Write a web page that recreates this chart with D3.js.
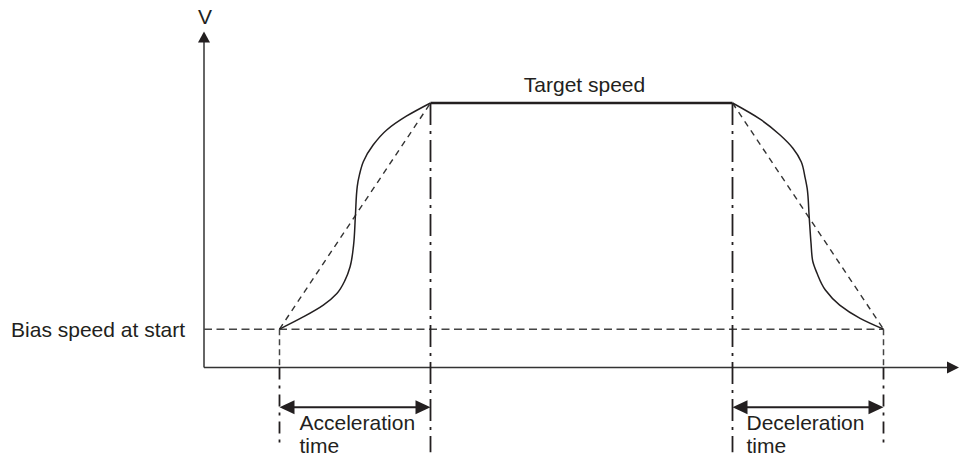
<!DOCTYPE html>
<html>
<head>
<meta charset="utf-8">
<script src="https://cdn.jsdelivr.net/npm/d3@7"></script>
<style>
  html, body { margin: 0; padding: 0; background: #fff; }
  svg { display: block; }
  text { font-family: "Liberation Sans", Arial, sans-serif; font-size: 21px; fill: #231f20; }
</style>
</head>
<body>
<svg width="966" height="459"></svg>
<script>
// phase times: accel start, accel end, decel start, decel end
var phaseTimes = [10, 30, 70, 90];
// speed levels: bias speed at start, target speed
var speedLevels = [14.5, 100];

// S-curve points (time, speed)
var sCurveAccel = [
  [10, 14.5], [13.2, 19.2], [15.8, 23.6], [17.6, 28], [18.7, 33.1], [19.35, 38.1],
  [19.8, 46], [20.05, 57.25], [20.3, 68.5], [20.6, 73], [21.1, 77.8],
  [22.4, 84.1], [24.2, 89.8], [26.8, 95], [30, 100]
];
var sCurveDecel = [
  [90, 14.5], [86.9, 18.6], [84.2, 23.6], [82.3, 29.3], [81.2, 35.6], [80.6, 40.6],
  [80.4, 47], [80.15, 57.25], [79.9, 67.5], [79.6, 72], [79.1, 77.8],
  [78.0, 82.9], [76.3, 87.9], [73.6, 94], [70, 100]
];

var axisLabels = ["V"];
var levelLabels = ["Bias speed at start", "Target speed"];
var timeLabels = [["Acceleration", "time"], ["Deceleration", "time"]];

var svg = d3.select("svg");

var x = d3.scaleLinear().domain([0, 100]).range([204, 959]),
    y = d3.scaleLinear().domain([0, 100]).range([367.5, 103]);

var ink = "#231f20";
var bias = speedLevels[0], target = speedLevels[1];

var line = d3.line()
    .x(function(d) { return x(d[0]); })
    .y(function(d) { return y(d[1]); });

// axes
var yTop = y(127), xEnd = x(100);
svg.append("line")
    .attr("x1", x(0)).attr("y1", y(0))
    .attr("x2", x(0)).attr("y2", yTop + 10)
    .attr("stroke", "#333").attr("stroke-width", 1.5);
svg.append("path")
    .attr("d", "M" + x(0) + "," + yTop + "L" + (x(0) - 6) + "," + (yTop + 11) + "L" + (x(0) + 6) + "," + (yTop + 11) + "Z")
    .attr("fill", ink);
svg.append("line")
    .attr("x1", x(0)).attr("y1", y(0))
    .attr("x2", xEnd - 10).attr("y2", y(0))
    .attr("stroke", "#333").attr("stroke-width", 1.5);
svg.append("path")
    .attr("d", "M" + xEnd + "," + y(0) + "L" + (xEnd - 12) + "," + (y(0) - 6) + "L" + (xEnd - 12) + "," + (y(0) + 6) + "Z")
    .attr("fill", ink);

svg.append("text")
    .attr("x", x(0) + 1).attr("y", yTop - 8)
    .attr("text-anchor", "middle")
    .text(axisLabels[0]);

// bias speed dashed level
svg.append("line")
    .attr("x1", x(0)).attr("y1", y(bias))
    .attr("x2", x(phaseTimes[3])).attr("y2", y(bias))
    .attr("stroke", "#444").attr("stroke-width", 1.5)
    .attr("stroke-dasharray", "8,4.5");

// dashed verticals from bias level down to the axis
[phaseTimes[0], phaseTimes[3]].forEach(function(t) {
  svg.append("line")
      .attr("x1", x(t)).attr("y1", y(bias))
      .attr("x2", x(t)).attr("y2", y(0))
      .attr("stroke", "#444").attr("stroke-width", 1.5)
      .attr("stroke-dasharray", "6,4");
});

// dash-dot verticals
var dashDot = "22,6,3,6";
[phaseTimes[1], phaseTimes[2]].forEach(function(t) {
  svg.append("line")
      .attr("x1", x(t)).attr("y1", y(target))
      .attr("x2", x(t)).attr("y2", y(-32))
      .attr("stroke", ink).attr("stroke-width", 1.8)
      .attr("stroke-dasharray", dashDot);
});
[phaseTimes[0], phaseTimes[3]].forEach(function(t) {
  svg.append("line")
      .attr("x1", x(t)).attr("y1", y(0))
      .attr("x2", x(t)).attr("y2", y(-30))
      .attr("stroke", ink).attr("stroke-width", 1.8)
      .attr("stroke-dasharray", "12,6,3,6");
});

// linear accel / decel (dashed)
var linearAccel = [[phaseTimes[0], bias], [phaseTimes[1], target]];
var linearDecel = [[phaseTimes[2], target], [phaseTimes[3], bias]];
[linearAccel, linearDecel].forEach(function(pts) {
  svg.append("path")
      .attr("d", line(pts))
      .attr("fill", "none")
      .attr("stroke", "#333").attr("stroke-width", 1.4)
      .attr("stroke-dasharray", "6,5");
});

// S-curves (x as a smooth function of speed)
var curve = d3.line()
    .x(function(d) { return x(d[0]); })
    .y(function(d) { return y(d[1]); })
    .curve(d3.curveMonotoneY);
[sCurveAccel, sCurveDecel].forEach(function(pts) {
  var sorted = pts.slice().sort(function(a, b) { return y(a[1]) - y(b[1]); });
  svg.append("path")
      .attr("d", curve(sorted))
      .attr("fill", "none")
      .attr("stroke", ink).attr("stroke-width", 1.5);
});

// target speed level
svg.append("line")
    .attr("x1", x(phaseTimes[1])).attr("y1", y(target))
    .attr("x2", x(phaseTimes[2])).attr("y2", y(target))
    .attr("stroke", ink).attr("stroke-width", 2.6);

svg.append("text")
    .attr("x", x(50) + 3).attr("y", y(target) - 11)
    .attr("text-anchor", "middle")
    .text(levelLabels[1]);

svg.append("text")
    .attr("x", x(0) - 19).attr("y", y(bias) + 8)
    .attr("text-anchor", "end")
    .text(levelLabels[0]);

// double-headed time arrows
var arrowY = y(-15);
function doubleArrow(t0, t1) {
  var a = x(t0), b = x(t1);
  svg.append("line")
      .attr("x1", a + 10).attr("y1", arrowY)
      .attr("x2", b - 10).attr("y2", arrowY)
      .attr("stroke", ink).attr("stroke-width", 2);
  svg.append("path")
      .attr("d", "M" + a + "," + arrowY + "L" + (a + 15) + "," + (arrowY - 7) + "L" + (a + 15) + "," + (arrowY + 7) + "Z")
      .attr("fill", ink);
  svg.append("path")
      .attr("d", "M" + b + "," + arrowY + "L" + (b - 15) + "," + (arrowY - 7) + "L" + (b - 15) + "," + (arrowY + 7) + "Z")
      .attr("fill", ink);
}
doubleArrow(phaseTimes[0], phaseTimes[1]);
doubleArrow(phaseTimes[2], phaseTimes[3]);

[[phaseTimes[0], 20], [phaseTimes[2], 14]].forEach(function(p, i) {
  var txt = svg.append("text")
      .attr("x", x(p[0]) + p[1]).attr("y", arrowY + 23);
  txt.append("tspan").attr("x", x(p[0]) + p[1]).attr("dy", 0).text(timeLabels[i][0]);
  txt.append("tspan").attr("x", x(p[0]) + p[1]).attr("dy", 23).text(timeLabels[i][1]);
});
</script>
</body>
</html>
